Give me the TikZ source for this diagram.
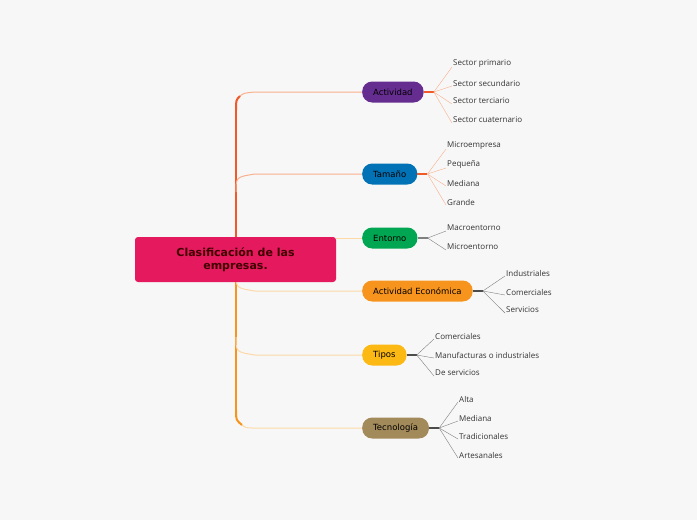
\documentclass[tikz,border=0pt]{standalone}
\usepackage{fontspec}
\setmainfont{DejaVu Sans}
\newfontfamily\leaffont{Open Sans}
\usetikzlibrary{positioning}
\definecolor{bg}{HTML}{F7F7F7}
\definecolor{rootc}{HTML}{E5195E}
\definecolor{actc}{HTML}{662D91}
\definecolor{tamc}{HTML}{0072B5}
\definecolor{entc}{HTML}{00A651}
\definecolor{ecoc}{HTML}{F7941D}
\definecolor{tipc}{HTML}{FDB913}
\definecolor{tecc}{HTML}{A38A5A}
\definecolor{redline}{HTML}{F05A28}
\definecolor{orline}{HTML}{F7941D}
\definecolor{peach}{HTML}{F9B08C}
\definecolor{cream}{HTML}{FCD9A6}
\tikzset{
    root/.style = {rectangle, rounded corners=3pt, fill=rootc, text=black!75!red, minimum width=201pt, minimum height=45pt, align=center, font=\bfseries\fontsize{11}{12.5}\selectfont},
    topic/.style = {rectangle, rounded corners=10pt, minimum height=21pt, inner xsep=11pt, text=black, font=\fontsize{8.5}{10}\selectfont},
    leaf/.style = {anchor=west, inner sep=1pt, text=black!80, font=\leaffont\fontsize{8}{9}\selectfont},
    fork/.style = {line width=1.2pt},
    twig/.style = {line width=0.4pt}
}
\begin{document}
\begin{tikzpicture}[x=1pt, y=-1pt]
\useasboundingbox[fill=bg] (0,0) rectangle (697,520);
% topics
\node [topic, fill=actc, anchor=west] (act) at (362,92) {Actividad};
\node [topic, fill=tamc, anchor=west] (tam) at (362,174) {Tamaño};
\node [topic, fill=entc, anchor=west] (ent) at (362,238) {Entorno};
\node [topic, fill=ecoc, anchor=west] (eco) at (362,291) {Actividad Económica};
\node [topic, fill=tipc, anchor=west] (tip) at (362,355) {Tipos};
\node [topic, fill=tecc, anchor=west] (tec) at (362,428) {Tecnología};
% trunk and branches
\draw [redline, line width=2pt] (236,110) -- (236,259);
\draw [orline, line width=2pt] (236,259) -- (236,410);
\draw [peach, line width=1pt] (240,96) .. controls (244,93) .. (255,92) -- (act.west);
\draw [redline, line width=2pt] (236,110) .. controls (236,100) .. (240,96);
\draw [peach, line width=1pt] (236,192) .. controls (236,177) .. (255,174) -- (tam.west);
\draw [cream, line width=1pt] (336,238) -- (ent.west);
\draw [cream, line width=1pt] (236,273) .. controls (236,288) .. (255,291) -- (eco.west);
\draw [cream, line width=1pt] (236,337) .. controls (236,352) .. (255,355) -- (tip.west);
\draw [orline, line width=2pt] (236,410) .. controls (236,420) .. (242,425);
\draw [cream, line width=1pt] (242,425) .. controls (246,428) .. (255,428) -- (tec.west);
\node [root] (root) at (235.5,259.5) {Clasificación de las\\empresas.};
% leaves
\foreach \t/\y [count=\i] in {Sector primario/64, Sector secundario/83, Sector terciario/101, Sector cuaternario/120}
  \node [leaf] (act\i) at (452,\y) {\t};
\foreach \t/\y [count=\i] in {Microempresa/146, Pequeña/165, Mediana/183, Grande/202}
  \node [leaf] (tam\i) at (446,\y) {\t};
\foreach \t/\y [count=\i] in {Macroentorno/228, Microentorno/247}
  \node [leaf] (ent\i) at (446,\y) {\t};
\foreach \t/\y [count=\i] in {Industriales/273, Comerciales/292, Servicios/310}
  \node [leaf] (eco\i) at (505,\y) {\t};
\foreach \t/\y [count=\i] in {Comerciales/336, Manufacturas o industriales/355, De servicios/373}
  \node [leaf] (tip\i) at (434,\y) {\t};
\foreach \t/\y [count=\i] in {Alta/399, Mediana/418, Tradicionales/436, Artesanales/455}
  \node [leaf] (tec\i) at (458,\y) {\t};
% forks
\coordinate (fact) at ([xshift=10pt]act.east);
\coordinate (ftam) at ([xshift=10pt]tam.east);
\coordinate (fent) at ([xshift=10pt]ent.east);
\coordinate (feco) at ([xshift=10pt]eco.east);
\coordinate (ftip) at ([xshift=10pt]tip.east);
\coordinate (ftec) at ([xshift=10pt]tec.east);
\draw [fork, redline] (act.east) -- (fact);
\draw [fork, redline] (tam.east) -- (ftam);
\draw [fork, gray] (ent.east) -- (fent);
\draw [fork, black!70] (eco.east) -- (feco);
\draw [fork, black!70] (tip.east) -- (ftip);
\draw [fork, black!70] (tec.east) -- (ftec);
\foreach \i in {1,...,4} \draw [twig, peach] (fact) -- ([yshift=-3pt]act\i.west);
\foreach \i in {1,...,4} \draw [twig, peach] (ftam) -- ([yshift=-3pt]tam\i.west);
\foreach \i in {1,2} \draw [twig, gray] (fent) -- ([yshift=-3pt]ent\i.west);
\foreach \i in {1,...,3} \draw [twig, gray] (feco) -- ([yshift=-3pt]eco\i.west);
\foreach \i in {1,...,3} \draw [twig, gray] (ftip) -- ([yshift=-3pt]tip\i.west);
\foreach \i in {1,...,4} \draw [twig, gray] (ftec) -- ([yshift=-3pt]tec\i.west);
\end{tikzpicture}
\end{document}
